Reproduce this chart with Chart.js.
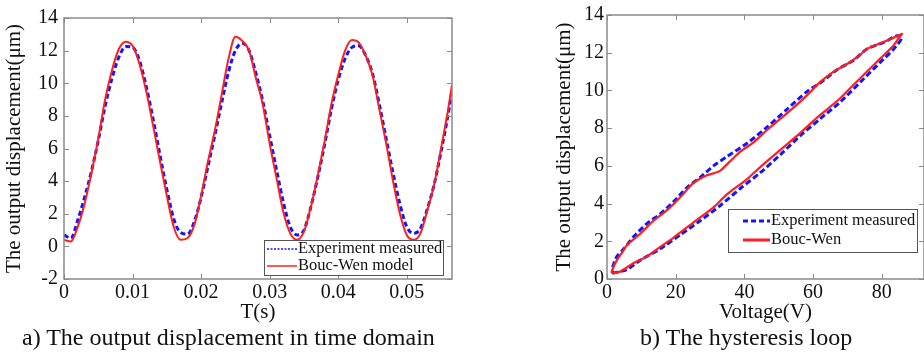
<!DOCTYPE html>
<html>
<head>
<meta charset="utf-8">
<script src="https://cdn.jsdelivr.net/npm/chart.js@4"></script>
<style>
body { margin: 0; background: #fff; width: 924px; height: 353px; position: relative; overflow: hidden; font-family: "Liberation Serif", serif; color: #111; }
canvas { position: absolute; top: 0; }
#cA { left: 0; }
#cB { left: 460px; }
.cap { position: absolute; top: 325px; font-size: 24px; line-height: 24px; white-space: nowrap; }
</style>
</head>
<body>
<canvas id="cA" width="460" height="325"></canvas>
<canvas id="cB" width="464" height="325"></canvas>
<div class="cap" style="left:22px">a) The output displacement in time domain</div>
<div class="cap" style="left:640px">b) The hysteresis loop</div>
<script>
// a) time domain
const timeA = [0, 0.001, 0.002, 0.003, 0.004, 0.005, 0.006, 0.007, 0.008, 0.009,
    0.010, 0.011, 0.012, 0.013, 0.014, 0.015, 0.016, 0.017, 0.018, 0.019,
    0.020, 0.021, 0.022, 0.023, 0.024, 0.025, 0.026, 0.027, 0.028, 0.029,
    0.030, 0.031, 0.032, 0.033, 0.034, 0.035, 0.036, 0.037, 0.038, 0.039,
    0.040, 0.041, 0.042, 0.043, 0.044, 0.045, 0.046, 0.047, 0.048, 0.049,
    0.050, 0.051, 0.052, 0.053, 0.054, 0.055, 0.056, 0.0566];
const measA = [0.7, 0.5, 1.6, 3.0, 4.6, 6.5, 8.6, 10.3, 11.6, 12.25,
    12.2, 11.4, 9.8, 7.8, 5.6, 3.5, 1.7, 0.85, 0.75, 1.5,
    3.0, 4.9, 6.8, 8.8, 10.7, 12.0, 12.45, 12.0, 10.6, 8.9,
    6.8, 4.7, 2.7, 1.2, 0.7, 1.0, 2.4, 4.2, 6.2, 8.4,
    10.2, 11.5, 12.2, 12.3, 11.7, 10.6, 8.7, 6.6, 4.5, 2.6,
    1.2, 0.8, 1.1, 2.3, 3.8, 5.8, 8.0, 9.5];
const bwA = [0.4, 0.3, 1.2, 2.6, 4.5, 6.6, 9.0, 10.8, 12.1, 12.55,
    12.3, 11.2, 9.5, 7.4, 5.2, 3.1, 1.2, 0.4, 0.5, 1.3,
    3.1, 5.2, 7.1, 9.3, 11.5, 12.85, 12.6, 12.0, 10.3, 8.7,
    6.3, 4.2, 2.1, 0.8, 0.4, 0.9, 2.4, 4.3, 6.4, 8.7,
    10.5, 12.0, 12.65, 12.5, 11.7, 10.5, 8.4, 6.3, 4.0, 2.0,
    0.7, 0.4, 0.8, 2.2, 3.8, 6.0, 8.3, 9.9];
const xTicksA = [0, 0.01, 0.02, 0.03, 0.04, 0.05];
const yTicksA = [-2, 0, 2, 4, 6, 8, 10, 12, 14];

// b) hysteresis loop (up branch then down branch)
const measV = [1.5, 5.8, 9.7, 15.5, 21.4, 27.2, 33, 38.8, 44.7, 50.5, 56.3, 62.1, 68, 73.8, 79.6, 83.5, 85.9,
    84.5, 80.6, 75.7, 71.8, 67, 62.1, 58.3, 52.4, 46.6, 40.8, 35, 31, 27.2, 23.3, 19.4, 15.5, 11.7, 7.8, 4.9, 2.9, 1.7, 1.5];
const measD = [0.3, 0.5, 1.0, 1.6, 2.35, 3.1, 3.9, 4.8, 5.65, 6.6, 7.6, 8.5, 9.4, 10.45, 11.5, 12.2, 12.8,
    12.9, 12.55, 12.2, 11.6, 11.1, 10.4, 9.95, 9.0, 8.05, 7.2, 6.5, 6.0, 5.4, 4.85, 4.1, 3.45, 2.95, 2.25, 1.6, 1.2, 0.65, 0.3];
const bwV = [1.9, 3.9, 7.8, 11.7, 15.5, 19.4, 25.2, 31, 35, 40.8, 44.7, 50.5, 56.3, 60.2, 64.1, 68, 71.8, 75.7, 79.6, 83.5, 85.4,
    85.9, 83.5, 79.6, 75.7, 73.8, 69.9, 66, 62.1, 58.3, 54.4, 50.5, 46.6, 42.7, 38.8, 35.9, 33, 31, 29.1, 25.2, 21.4, 17.5, 13.6, 9.7, 5.8, 4.4, 2.9, 1.9, 1.5, 1.9];
const bwD = [0.3, 0.4, 0.85, 1.2, 1.7, 2.2, 3.0, 3.8, 4.5, 5.3, 5.95, 6.85, 7.75, 8.4, 9.0, 9.6, 10.3, 11.0, 11.7, 12.4, 12.9,
    13.0, 12.8, 12.5, 12.2, 11.9, 11.4, 11.0, 10.45, 9.75, 9.1, 8.5, 7.9, 7.25, 6.75, 6.25, 5.75, 5.6, 5.5, 5.1, 4.35, 3.65, 3.1, 2.4, 1.8, 1.4, 1.0, 0.65, 0.4, 0.3];
const xTicksB = [0, 20, 40, 60, 80];
const yTicksB = [0, 2, 4, 6, 8, 10, 12, 14];

const blue = "#1414ff";
const red = "#ff1e1e";
const axisGray = "#8a8a8a";

Chart.defaults.font.family = "'Liberation Serif', 'Times New Roman', serif";
Chart.defaults.color = "#111";

function pts(xs, ys) {
    return xs.map((x, i) => ({ x: x, y: ys[i] }));
}

// box around plot + MATLAB style inward ticks
const boxTicks = {
    id: "boxTicks",
    afterDatasetsDraw(chart) {
        const { ctx, chartArea: a, scales } = chart;
        ctx.save();
        ctx.strokeStyle = axisGray;
        ctx.lineWidth = 1.5;
        ctx.strokeRect(a.left, a.top, a.right - a.left, a.bottom - a.top);
        ctx.lineWidth = 1;
        ctx.beginPath();
        scales.x.ticks.forEach(t => {
            const px = Math.round(scales.x.getPixelForValue(t.value)) + 0.5;
            ctx.moveTo(px, a.bottom); ctx.lineTo(px, a.bottom - 5);
            ctx.moveTo(px, a.top); ctx.lineTo(px, a.top + 5);
        });
        scales.y.ticks.forEach(t => {
            const py = Math.round(scales.y.getPixelForValue(t.value)) + 0.5;
            ctx.moveTo(a.left, py); ctx.lineTo(a.left + 5, py);
            ctx.moveTo(a.right, py); ctx.lineTo(a.right - 5, py);
        });
        ctx.stroke();
        ctx.restore();
    }
};

const boxLegend = {
    id: "boxLegend",
    afterDraw(chart, args, o) {
        const ctx = chart.ctx;
        ctx.save();
        ctx.fillStyle = "#fff";
        ctx.fillRect(o.x, o.y, o.w, o.h);
        ctx.strokeStyle = "#555";
        ctx.lineWidth = 1;
        ctx.strokeRect(o.x + 0.5, o.y + 0.5, o.w, o.h);
        ctx.font = o.size + "px 'Liberation Serif'";
        ctx.textBaseline = "middle";
        ctx.fillStyle = "#111";
        o.items.forEach((it, i) => {
            const ds = chart.data.datasets[it.ds];
            const y = o.rows[i];
            ctx.beginPath();
            ctx.strokeStyle = ds.borderColor;
            ctx.lineWidth = it.width;
            ctx.setLineDash(it.dash);
            ctx.moveTo(o.lineX, y);
            ctx.lineTo(o.lineX + o.lineW, y);
            ctx.stroke();
            ctx.setLineDash([]);
            ctx.fillText(ds.label, o.textX, y);
        });
        ctx.restore();
    }
};

function axis(min, max, tickVals, fit, pad, title, titlePad) {
    return {
        type: "linear", min: min, max: max,
        grid: { display: false, drawTicks: false },
        border: { display: false },
        afterBuildTicks: s => { s.ticks = tickVals.map(v => ({ value: v })); },
        afterFit: fit,
        ticks: { font: { size: 20 }, color: "#111", padding: pad, maxRotation: 0, autoSkip: false, callback: v => String(v) },
        title: { display: true, text: title, font: { size: 21 }, color: "#111", padding: titlePad }
    };
}

new Chart(document.getElementById("cA"), {
    type: "line",
    data: {
        datasets: [
            { label: "Bouc-Wen model", data: pts(timeA, bwA), borderColor: red, borderWidth: 2, order: 0 },
            { label: "Experiment measured", data: pts(timeA, measA), borderColor: blue, borderWidth: 3, borderDash: [5, 3], order: 1 }
        ]
    },
    options: {
        responsive: false,
        animation: false,
        layout: { padding: { left: 0, top: 12, right: 8, bottom: 0 } },
        elements: { point: { radius: 0 }, line: { cubicInterpolationMode: "monotone" } },
        plugins: {
            legend: { display: false },
            tooltip: { enabled: false },
            boxLegend: {
                x: 264, y: 240, w: 179, h: 35, rows: [249, 266], lineX: 267, lineW: 30, textX: 298, size: 16.5,
                items: [{ ds: 1, dash: [2, 1.5], width: 1.5 }, { ds: 0, dash: [], width: 1.5 }]
            }
        },
        scales: {
            x: axis(0, 0.0566, xTicksA, s => { s.height = 46; }, 2, "T(s)", { top: 0, bottom: 0 }),
            y: axis(-2, 14, yTicksA, s => { s.width = 64; }, 6, "The output displacement(μm)", { top: 2, bottom: 0 })
        }
    },
    plugins: [boxTicks, boxLegend]
});

new Chart(document.getElementById("cB"), {
    type: "scatter",
    data: {
        datasets: [
            { label: "Bouc-Wen", data: pts(bwV, bwD), borderColor: red, borderWidth: 2.2, showLine: true, tension: 0.25, order: 0 },
            { label: "Experiment measured", data: pts(measV, measD), borderColor: blue, borderWidth: 3, borderDash: [6, 3], showLine: true, tension: 0.25, order: 1 }
        ]
    },
    options: {
        responsive: false,
        animation: false,
        layout: { padding: { left: 90, top: 13, right: 0, bottom: 0 } },
        elements: { point: { radius: 0 } },
        plugins: {
            legend: { display: false },
            tooltip: { enabled: false },
            boxLegend: {
                x: 268, y: 209, w: 189, h: 43, rows: [221, 240], lineX: 283, lineW: 27, textX: 311, size: 16.5,
                items: [{ ds: 1, dash: [5, 3], width: 3 }, { ds: 0, dash: [], width: 3 }]
            }
        },
        scales: {
            x: axis(0, 92.3, xTicksB, s => { s.height = 46; }, 2, "Voltage(V)", { top: 0, bottom: 0 }),
            y: axis(0, 14, yTicksB, s => { s.width = 57; }, 3, "The output displacement(μm)", { top: 2, bottom: 0 })
        }
    },
    plugins: [boxTicks, boxLegend]
});
</script>
</body>
</html>
